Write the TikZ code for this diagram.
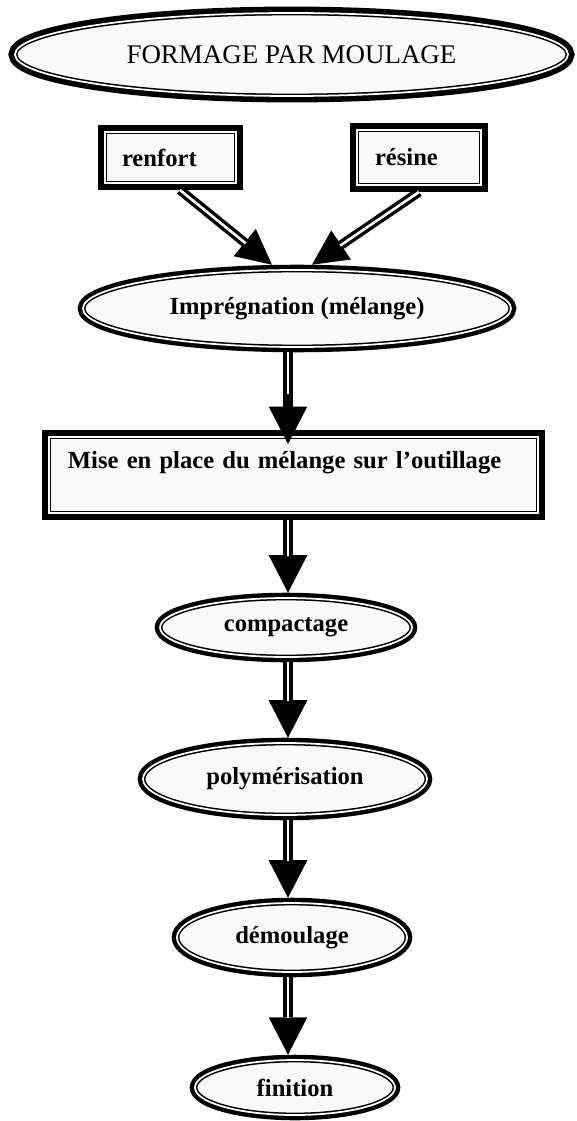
\documentclass[tikz,border=0pt]{standalone}
\usepackage{fontspec}
\setmainfont{Liberation Serif}
\usetikzlibrary{arrows.meta,shapes.geometric}
\definecolor{boxfill}{gray}{0.975}
\begin{document}
\begin{tikzpicture}[x=0.3mm,y=-0.3mm,line join=miter,
  stepell/.style={ellipse,fill=boxfill,draw,line width=1.3pt,double=white,double distance=1.5pt,
    preaction={draw,line width=9pt},outer sep=4.5pt,inner sep=0pt,
    font=\fontsize{21}{25}\selectfont\bfseries},
  stepbox/.style={rectangle,fill=boxfill,draw,line width=1.4pt,double=white,double distance=1.4pt,
    preaction={draw,line width=12pt},outer sep=6pt,inner ysep=0pt,align=left,
    font=\fontsize{21}{25}\selectfont\bfseries},
  flow/.style={line width=8.5pt,-{Triangle[length=32pt,width=33pt,line width=0pt]},
    postaction={draw=white,line width=2.4pt,-,shorten >=31pt}},
  feed/.style={line width=8pt,-{Triangle[length=30pt,width=30pt,line width=0pt]},
    postaction={draw=white,line width=2.2pt,-,shorten >=29pt}}]
  \useasboundingbox (0,0) rectangle (577,1121);

  % Title
  \node[stepell,minimum width=165.9mm,minimum height=24.9mm,preaction={draw,line width=11pt},
    font=\fontsize{23}{27}\selectfont] (title) at (291.5,54.5) {FORMAGE PAR MOULAGE};

  % Inputs
  \node[stepbox,text width=29.1mm,inner xsep=5.1mm,minimum height=15.3mm] (renfort) at (170.5,157.5) {renfort};
  \node[stepbox,text width=26.4mm,inner xsep=5.4mm,minimum height=16.5mm] (resine) at (419,157.5) {résine};

  % Process steps
  \node[stepell,minimum width=128.4mm,minimum height=23.1mm] (impreg) at (297,308.5) {Imprégnation (mélange)};
  \node[stepbox,text width=135.3mm,inner xsep=5.7mm,text height=9.3mm,text depth=13.5mm] (miseplace) at (293.5,475)
    {Mise en place du mélange sur l'outillage};
  \node[stepell,minimum width=75.6mm,minimum height=17.7mm] (compact) at (286,627.5) {compactage};
  \node[stepell,minimum width=85.2mm,minimum height=21.6mm] (polym) at (285,779) {polymérisation};
  \node[stepell,minimum width=69mm,minimum height=20.7mm] (demoul) at (292,937.5) {démoulage};
  \node[stepell,minimum width=60mm,minimum height=16.5mm] (finit) at (295,1087.5) {finition};

  % Arrows
  \coordinate (spine) at (288,0);
  \draw[feed] ([xshift=2.85mm]renfort.south) -- ([xshift=-7.5mm]impreg.north);
  \draw[feed] (resine.south) -- ([xshift=4.5mm]impreg.north);
  \draw[flow,shorten >=-12pt] (impreg.south -| spine) -- (miseplace.north -| spine);
  \draw[flow] (miseplace.south -| spine) -- (compact.north -| spine);
  \draw[flow] (compact.south -| spine) -- (polym.north -| spine);
  \draw[flow] (polym.south -| spine) -- (demoul.north -| spine);
  \draw[flow] (demoul.south -| spine) -- (finit.north -| spine);
\end{tikzpicture}
\end{document}
